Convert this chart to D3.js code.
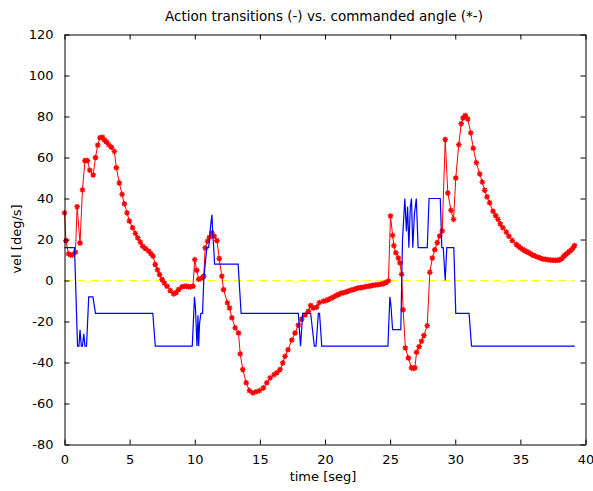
<!DOCTYPE html>
<html><head><meta charset="utf-8">
<script src="https://cdn.jsdelivr.net/npm/d3@7"></script>
<style>
html,body{margin:0;padding:0;background:#fff;}
svg{display:block;}
text{font-family:"DejaVu Sans",sans-serif;fill:#000;}
</style></head>
<body>
<script>
const titleText = "Action transitions (-) vs. commanded angle (*-)";
const xLabel = "time [seg]";
const yLabel = "vel [deg/s]";
const xTicks = [0,5,10,15,20,25,30,35,40];
const yTicks = [-80,-60,-40,-20,0,20,40,60,80,100,120];

// commanded angle (*-) series
const redT = [0,0.11,0.31,0.46,0.61,0.84,0.97,1.19,1.38,1.57,1.76,1.94,2.20,2.38,2.55,2.72,2.91,3.07,3.22,3.39,3.60,3.83,3.98,4.21,4.42,4.60,4.80,4.98,5.23,5.44,5.62,5.82,6.00,6.21,6.46,6.63,6.80,6.97,7.14,7.30,7.49,7.66,7.87,8.12,8.38,8.56,8.76,9.02,9.20,9.35,9.50,9.66,9.86,10.00,10.15,10.31,10.55,10.69,10.80,10.98,11.13,11.32,11.49,11.70,11.88,12.08,12.21,12.51,12.67,12.85,13.10,13.36,13.49,13.69,13.95,14.20,14.46,14.71,14.97,15.27,15.53,15.79,16.09,16.30,16.55,16.76,16.93,17.16,17.45,17.70,17.95,18.21,18.47,18.72,18.90,19.10,19.36,19.56,19.87,20.06,20.25,20.45,20.64,20.83,21.02,21.21,21.40,21.60,21.79,21.98,22.17,22.36,22.55,22.74,22.93,23.12,23.32,23.51,23.70,23.89,24.08,24.27,24.47,24.67,24.87,25.03,25.19,25.29,25.44,25.63,25.75,25.88,26.00,26.17,26.40,26.64,26.78,26.90,27.03,27.22,27.41,27.59,27.85,28.05,28.24,28.43,28.62,28.81,29.00,29.23,29.43,29.67,29.87,30.04,30.27,30.46,30.60,30.77,30.96,31.19,31.38,31.62,31.88,32.08,32.26,32.44,32.64,32.90,33.10,33.28,33.46,33.66,33.92,34.12,34.38,34.69,34.85,35.00,35.17,35.33,35.50,35.66,35.81,35.96,36.15,36.34,36.53,36.73,36.92,37.11,37.30,37.49,37.68,37.88,38.01,38.14,38.27,38.39,38.52,38.64,38.77,38.90,39.03,39.16];
const redV = [33,19.5,13,12.5,12.5,13.8,36,18.3,44.2,58.5,58.5,53.8,51.5,60,66,69.6,69.9,68.5,67.6,66.3,65,63,55,47.6,42,37.4,33,29,25.7,23,20.8,18.7,16.7,15.6,14.3,13.1,11.9,7.8,5.2,2.9,0.5,-1.2,-2.8,-4.9,-6.5,-6,-4.4,-3.1,-2.8,-2.8,-3.0,-3.1,-2.8,10.2,5,0.6,1.2,2.1,15.9,19.2,21.1,23.2,21.6,19.5,10.7,2.1,-4.4,-10.9,-13.4,-18.2,-23.1,-25.6,-35.8,-43.4,-49.9,-53.7,-54.8,-54.3,-53.7,-52.4,-49.9,-47.5,-45.9,-45,-43.4,-40.2,-37,-33.8,-29,-25.6,-21.8,-18.8,-16.8,-15,-12.2,-13.4,-13,-10.8,-10.1,-9.8,-9.3,-8.7,-8.1,-7.4,-6.8,-6.3,-6,-5.6,-5.2,-4.8,-4.4,-4.0,-3.6,-3.5,-3.3,-3.0,-2.8,-2.6,-2.3,-2.2,-2.0,-1.8,-1.5,-1.0,-0.2,31.5,22,17,13.5,11,8.6,3,-14.3,-32.9,-37.8,-42.6,-42.8,-42.6,-35,-32.3,-29.6,-26.8,-22,4,11,15,18.5,21.7,24.2,68.8,42.7,34.2,29.8,50,66.3,76.5,79.3,80.5,78.8,72,64.5,57.5,52,48,44,40.8,37.9,33.8,31.7,29.8,27.6,25.7,23.6,21.6,19.5,17.6,16.7,15.9,15.2,14.6,14.0,13.5,12.9,12.3,11.9,11.4,10.9,10.5,10.3,10.2,10.0,9.9,9.9,9.9,10.1,10.5,11.3,12.2,12.8,13.5,14.2,14.8,15.8,17.1];

// action transitions (-) series
const blueT = [0,0.77,1.00,1.11,1.19,1.29,1.38,1.48,1.57,1.69,1.86,2.18,2.38,6.78,6.97,9.81,9.98,10.06,10.17,10.25,10.30,10.37,10.47,10.60,10.69,10.80,10.93,11.07,11.15,11.24,11.32,11.39,11.46,11.52,13.33,13.56,17.95,18.12,18.29,18.90,19.04,19.18,19.31,19.49,19.58,19.75,24.83,24.98,25.06,25.19,25.82,25.95,26.13,26.25,26.34,26.44,26.55,26.64,26.74,26.86,27.01,27.15,27.85,27.99,28.85,28.97,29.08,29.23,29.35,29.89,30.04,31.06,31.25,39.18];
const blueV = [16,16,-32,-32,-24,-32,-32,-26,-32,-32,-8,-8,-16,-16,-32,-32,-8,-14,-32,-17,-32,-21,-16,-16,0,8,16,16,22,28,32,21.6,16,8,8,-16,-16,-32,-16,-16,-24,-32,-32,-16,-16,-32,-32,-8,-12,-24,-24,20,40,24,36,16,36,40,16,32,40,16,16,40,40,16,16,0,16,16,-16,-16,-32,-32];

// zero reference (yellow dashed)
const zeroT = [0,39.2];
const zeroV = [0,0];

const W = 593, H = 491;
const svg = d3.select("body").append("svg").attr("width",W).attr("height",H);

const x = d3.scaleLinear().domain([0,40]).range([64.5,585.5]);
const y = d3.scaleLinear().domain([-80,120]).range([444.5,34.5]);

const g = svg.append("g");

const line = d3.line().x(d=>x(d[0])).y(d=>y(d[1]));
g.append("path").datum(zeroT.map((t,i)=>[t,zeroV[i]]))
  .attr("d",line).attr("fill","none").attr("stroke","#ffff00")
  .attr("stroke-width",1.2).attr("stroke-dasharray","8,5");

const redData = redT.map((t,i)=>[t,redV[i]]);
const blueData = blueT.map((t,i)=>[t,blueV[i]]);

g.append("path").datum(redData).attr("d",line).attr("fill","none")
  .attr("stroke","#ff0000").attr("stroke-width",1);

const star = "M-2.8,0H2.8M0,-2.8V2.8M-2,-2L2,2M-2,2L2,-2";
g.selectAll("path.mk").data(redData).enter().append("path")
  .attr("class","mk").attr("d",star)
  .attr("transform",d=>`translate(${x(d[0])},${y(d[1])})`)
  .attr("fill","none").attr("stroke","#ff0000").attr("stroke-width",1.3);

g.append("path").datum(blueData).attr("d",line).attr("fill","none")
  .attr("stroke","#0000ff").attr("stroke-width",1.2);

// axes (MATLAB-style box, inward ticks)
const tl = 5;
const fmt = d => String(d);
const ax = svg.append("g");
const xb = d3.axisBottom(x).tickValues(xTicks).tickSizeInner(-tl).tickSizeOuter(0).tickPadding(10).tickFormat(fmt);
const xt = d3.axisTop(x).tickValues(xTicks).tickSizeInner(-tl).tickSizeOuter(0).tickFormat("");
const yl = d3.axisLeft(y).tickValues(yTicks).tickSizeInner(-tl).tickSizeOuter(0).tickPadding(11).tickFormat(fmt);
const yr = d3.axisRight(y).tickValues(yTicks).tickSizeInner(-tl).tickSizeOuter(0).tickFormat("");

ax.append("g").attr("transform","translate(0,444.5)").call(xb);
ax.append("g").attr("transform","translate(0,34.5)").call(xt);
ax.append("g").attr("transform","translate(64.5,0)").call(yl);
ax.append("g").attr("transform","translate(585.5,0)").call(yr);
ax.selectAll(".domain").attr("stroke","#000");
ax.selectAll(".tick line").attr("stroke","#000");
ax.selectAll(".tick text").attr("font-size",13).attr("font-family","Liberation Sans, Arial, sans-serif").attr("fill","#000");

svg.append("text").attr("x",324).attr("y",21).attr("text-anchor","middle")
  .attr("font-size",13.5).text(titleText);
svg.append("text").attr("x",323).attr("y",481).attr("text-anchor","middle")
  .attr("font-size",13).text(xLabel);
svg.append("text").attr("transform","translate(21,239) rotate(-90)")
  .attr("text-anchor","middle").attr("font-size",13).text(yLabel);
</script>
</body></html>
